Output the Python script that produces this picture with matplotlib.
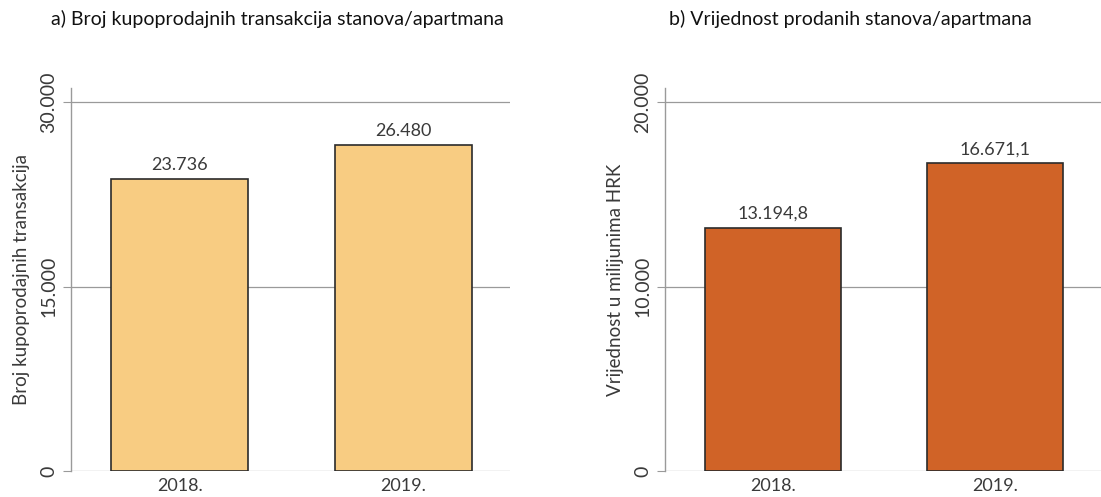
import matplotlib.pyplot as plt
import numpy as np

years = ["2018.", "2019."]
transakcije = [23736, 26480]
vrijednost = [13194.8, 16671.1]
lbl_transakcije = ["23.736", "26.480"]
lbl_vrijednost = ["13.194,8", "16.671,1"]
ticks_a = [0, 15000, 30000]
ticks_b = [0, 10000, 20000]
ticklbl_a = ["0", "15.000", "30.000"]
ticklbl_b = ["0", "10.000", "20.000"]

plt.rcParams['font.family'] = ['Lato', 'DejaVu Sans']
txt = '#3a3a3a'
grid = '#9a9a9a'

fig = plt.figure(figsize=(11.01, 4.97), dpi=100)
ax1 = fig.add_axes([0.0645, 0.0523, 0.3987, 0.7706])
ax2 = fig.add_axes([0.604, 0.0523, 0.396, 0.7706])

def draw(ax, vals, labels, ticks, ticklbl, ymax, color, ylabel):
    x = np.arange(len(years))
    ax.bar(x, vals, width=0.61, color=color, edgecolor='#2b2b2b', linewidth=1.2, zorder=3)
    for xi, v, l in zip(x, vals, labels):
        ax.text(xi, v + ymax * 0.016, l, ha='center', va='bottom', fontsize=13, color=txt)
    ax.set_xlim(-0.485, 1.475)
    ax.set_ylim(0, ymax)
    ax.set_yticks(ticks)
    ax.set_yticklabels(ticklbl, rotation=90, va='center', fontsize=14, color=txt)
    ax.set_xticks(x)
    ax.set_xticklabels(years, fontsize=13, color=txt)
    ax.tick_params(axis='x', length=0, pad=5)
    ax.tick_params(axis='y', length=6, color=grid, pad=4)
    ax.grid(axis='y', color=grid, linewidth=0.9, zorder=0)
    for s in ['top', 'right', 'bottom']:
        ax.spines[s].set_visible(False)
    ax.spines['left'].set_color(grid)
    ax.spines['left'].set_linewidth(1.0)
    ax.set_ylabel(ylabel, fontsize=13.5, color=txt, labelpad=7)

draw(ax1, transakcije, lbl_transakcije, ticks_a, ticklbl_a, 31140, '#F8CC82',
     'Broj kupoprodajnih transakcija')
draw(ax2, vrijednost, lbl_vrijednost, ticks_b, ticklbl_b, 20760, '#D06327',
     'Vrijednost u milijunima HRK')

fig.text(277 / 1101, 1 - 19 / 497, 'a) Broj kupoprodajnih transakcija stanova/apartmana',
         ha='center', va='center', fontsize=14, color='#111111')
fig.text(850 / 1101, 1 - 19 / 497, 'b) Vrijednost prodanih stanova/apartmana',
         ha='center', va='center', fontsize=14, color='#111111')

plt.savefig('out.png', dpi=100)
